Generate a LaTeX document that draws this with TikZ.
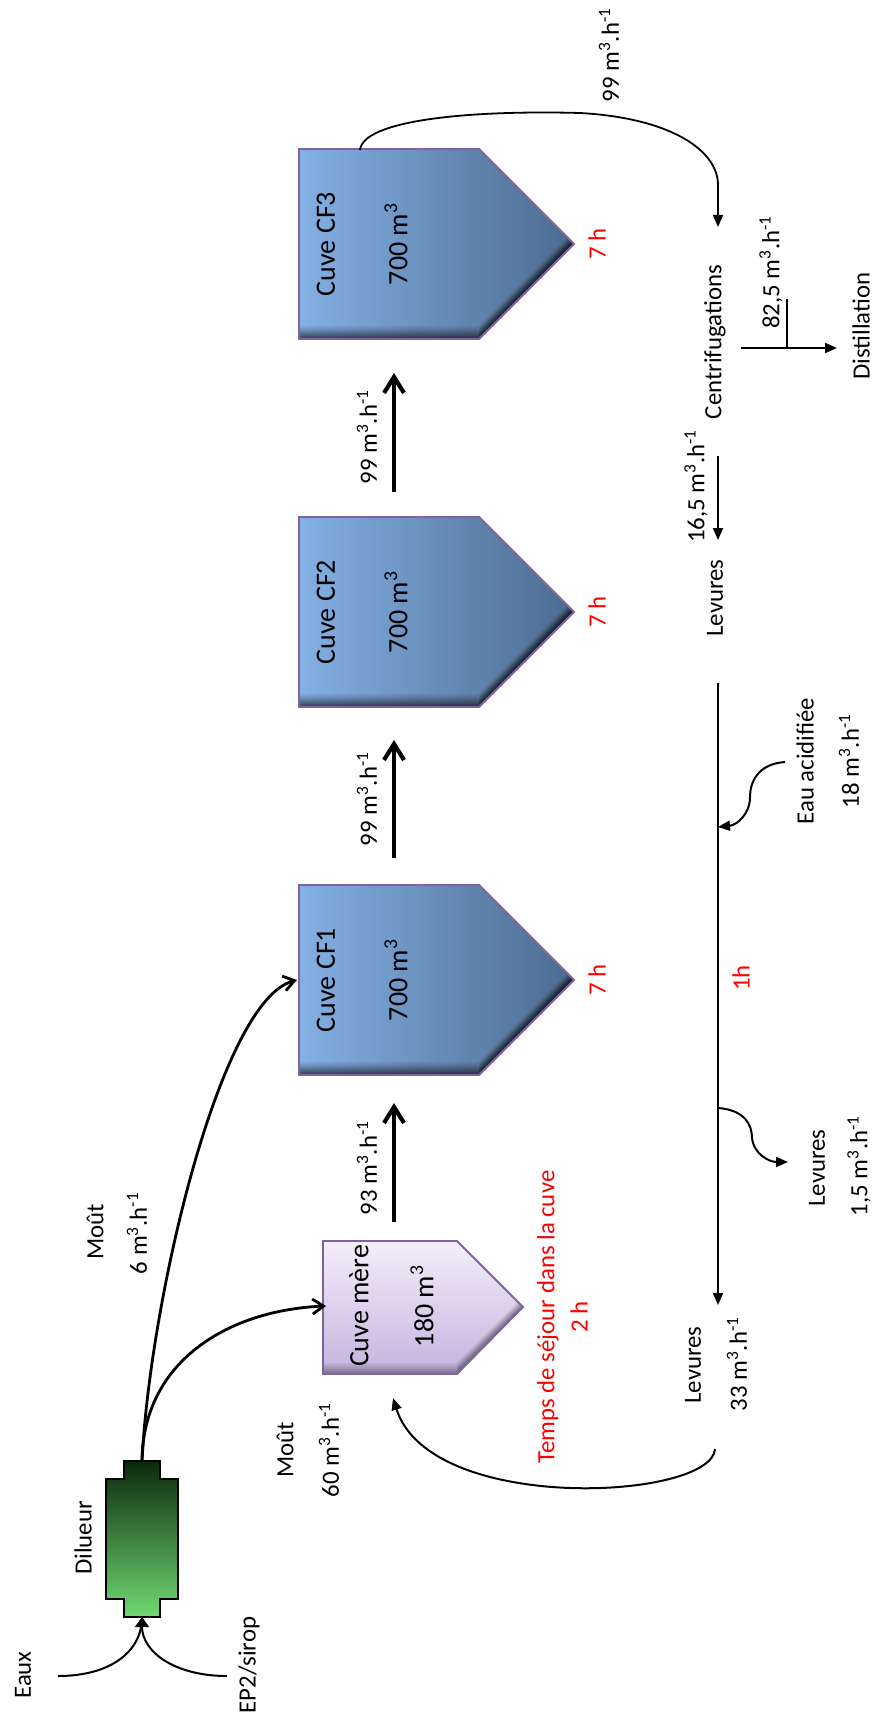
\documentclass[tikz,border=0pt]{standalone}
\usepackage{fontspec}
\setmainfont{Carlito}
\usetikzlibrary{arrows.meta}
\definecolor{cfL}{RGB}{132,176,228}
\definecolor{cfR}{RGB}{76,106,142}
\definecolor{meT}{RGB}{243,238,250}
\definecolor{meB}{RGB}{196,180,222}
\definecolor{tankline}{RGB}{126,98,162}
\definecolor{dilT}{RGB}{12,40,12}
\definecolor{dilB}{RGB}{112,218,114}
\newcommand\flowu[1]{#1 m\textsuperscript{3}.h\textsuperscript{-1}}
\newcommand\cftank[2]{%
  \shade[left color=cfL, right color=cfR] (299,#2-95) -- (479,#2-95) -- (574,#2) -- (479,#2+95) -- (299,#2+95) -- cycle;
  \begin{scope}
    \clip (299,#2-95) -- (479,#2-95) -- (574,#2) -- (479,#2+95) -- (299,#2+95) -- cycle;
    \foreach \oo/\oq in {0/0.6,2/0.5,4/0.4,6/0.3,8/0.2,10/0.12,12/0.05}{
      \draw[black, line width=1.1pt, opacity=\oq, shift={(0,-\oo)}] (290,#2+95) -- (479,#2+95) -- (582,#2-8);
    }
  \end{scope}
  \draw[tankline, line width=0.9pt] (299,#2-95) -- (479,#2-95) -- (574,#2) -- (479,#2+95) -- (299,#2+95) -- cycle;
  \coordinate (#1) at (299,#2);
}
\begin{document}
\begin{tikzpicture}[x=0.5pt, y=-0.5pt,
  lbl/.style={rotate=90, inner sep=0pt, font=\fontsize{12.4}{15}\selectfont},
  tanklbl/.style={rotate=90, inner sep=0pt, font=\fontsize{14}{17}\selectfont},
  redlbl/.style={lbl, text=red},
  bigarrow/.style={line width=2.1pt, -{Straight Barb[length=8pt,width=10pt]}},
  medarrow/.style={line width=1.4pt, -{Straight Barb[length=5.5pt,width=7.5pt]}},
  thinline/.style={line width=1pt},
  thinarrow/.style={line width=1pt, -{Triangle[length=6pt,width=5pt]}}]
\fill[white] (0,0) rectangle (875,1717);
\useasboundingbox (0,0) rectangle (875,1717);

% ---------- Dilueur ----------
\shade[top color=dilT, bottom color=dilB]
  (124,1461) -- (160,1461) -- (160,1479) -- (178,1479) -- (178,1599) -- (160,1599)
  -- (160,1617) -- (124,1617) -- (124,1599) -- (106,1599) -- (106,1479) -- (124,1479) -- cycle;
\draw[black, line width=0.9pt]
  (124,1461) -- (160,1461) -- (160,1479) -- (178,1479) -- (178,1599) -- (160,1599)
  -- (160,1617) -- (124,1617) -- (124,1599) -- (106,1599) -- (106,1479) -- (124,1479) -- cycle;
\coordinate (dilTop) at (142,1461);
\coordinate (dilBot) at (142,1617);
\coordinate (eauxS) at (58,1676);
\coordinate (ep2S) at (227,1676);

% ---------- Cuve mere ----------
\shade[top color=meT, bottom color=meB] (323,1241) -- (457,1241) -- (523,1307) -- (457,1374) -- (323,1374) -- cycle;
\begin{scope}
  \clip (323,1241) -- (457,1241) -- (523,1307) -- (457,1374) -- (323,1374) -- cycle;
  \foreach \oo/\oq in {0/0.5,2/0.42,4/0.32,6/0.22,8/0.14,10/0.07}{
    \draw[black!70!meB, line width=1.1pt, opacity=\oq, shift={(0,-\oo)}] (315,1374) -- (457,1374) -- (530,1301);
  }
\end{scope}
\draw[tankline, line width=0.9pt] (323,1241) -- (457,1241) -- (523,1307) -- (457,1374) -- (323,1374) -- cycle;
\coordinate (merein) at (326,1306);

% ---------- CF tanks ----------
\cftank{cf1}{980}
\cftank{cf2}{612}
\cftank{cf3}{244}
\coordinate (cf1in) at (297,980);
\coordinate (cf3out) at (360,150);

% ---------- text ----------
\node[lbl] (eaux) at (23,1675) {Eaux};
\node[lbl] (ep2) at (249,1665) {EP2/sirop};
\node[lbl] (dil) at (83,1538) {Dilueur};
\node[lbl] (mout1) at (95,1232) {Moût};
\node[lbl] (mout1q) at (137,1233) {\flowu{6}};
\node[lbl] (mout2) at (285,1450) {Moût};
\node[lbl] (mout2q) at (329,1450) {\flowu{60}};
\node[tanklbl] (mereA) at (359,1306) {Cuve mère};
\node[tanklbl] (mereB) at (422,1306) {180 m\textsuperscript{3}};
\node[redlbl] (tsej) at (548,1317) {Temps de séjour dans la cuve};
\node[redlbl] (tsej2) at (579,1317) {2 h};
\node[lbl] (q93) at (367,1168) {\flowu{93}};
\node[lbl] (q99a) at (367,799) {\flowu{99}};
\node[lbl] (q99b) at (367,437) {\flowu{99}};
\foreach \n/\c in {1/980,2/612,3/244}{
  \node[tanklbl] (cfA\n) at (326,\c) {Cuve CF\n};
  \node[tanklbl] (cfB\n) at (396,\c) {700 m\textsuperscript{3}};
  \node[redlbl] (cfT\n) at (597,\c) {7 h};
}
\node[lbl] (q99c) at (609,55) {\flowu{99}};
\node[lbl] (centri) at (715,342) {Centrifugations};
\node[lbl] (q825) at (771,272) {\flowu{82,5}};
\node[lbl] (disti) at (861,326) {Distillation};
\node[lbl] (q165) at (696,486) {\flowu{16,5}};
\node[lbl] (lev1) at (715,598) {Levures};
\node[lbl] (eauac) at (805,761) {Eau acidifiée};
\node[lbl] (q18) at (849,761) {\flowu{18}};
\node[redlbl] (oneh) at (741,978) {1h};
\node[lbl] (lev2) at (817,1168) {Levures};
\node[lbl] (q15) at (859,1166) {\flowu{1,5}};
\node[lbl] (lev3) at (693,1365) {Levures};
\node[lbl] (q33) at (737,1364) {\flowu{33}};

% ---------- coordinates for connectors ----------
\coordinate (a93s) at (394,1222);
\coordinate (a93e) at (394,1103);
\coordinate (a99as) at (394,858);
\coordinate (a99ae) at (394,740);
\coordinate (a99bs) at (394,492);
\coordinate (a99be) at (394,373);
\coordinate (centin) at (718,227);
\coordinate (centdown) at (718,456);
\coordinate (levin) at (718,540);
\coordinate (centright) at (741,348);
\coordinate (distin) at (837,348);
\coordinate (tickTop) at (787,299);
\coordinate (tickBot) at (787,348);
\coordinate (lineTop) at (718,683);
\coordinate (lineBot) at (718,1305);
\coordinate (eauS) at (785,762);
\coordinate (eauE) at (718,827);
\coordinate (lev15S) at (718,1108);
\coordinate (lev15E) at (788,1162);
\coordinate (recS) at (715,1449);
\coordinate (recE) at (393,1398);

% ---------- connectors ----------
\draw[thinline] (eauxS) .. controls (110,1676) and (142,1652) .. (dilBot);
\draw[thinarrow, -{Triangle[length=5pt,width=7pt]}] (ep2S) .. controls (175,1676) and (142,1652) .. (dilBot);
\draw[medarrow] (dilTop) .. controls (150,1300) and (220,1000) .. (cf1in);
\draw[medarrow] (dilTop) .. controls (143,1360) and (230,1310) .. (merein);
\draw[bigarrow] (a93s) -- (a93e);
\draw[bigarrow] (a99as) -- (a99ae);
\draw[bigarrow] (a99bs) -- (a99be);
\draw[thinarrow, line width=0.9pt] (cf3out) .. controls (363,120) and (470,110) .. (580,113)
  .. controls (670,118) and (718,150) .. (718,185) -- (centin);
\draw[thinarrow] (centdown) -- (levin);
\draw[thinarrow] (centright) -- (distin);
\draw[thinline] (tickTop) -- (tickBot);
\draw[thinarrow] (lineTop) -- (lineBot);
\draw[thinarrow] (eauS) .. controls (757,764) and (750,783) .. (750,797)
  .. controls (750,814) and (737,825) .. (eauE);
\draw[thinarrow] (lev15S) .. controls (745,1110) and (752,1125) .. (752,1138)
  .. controls (754,1155) and (770,1162) .. (lev15E);
\draw[thinarrow] (recS) .. controls (712,1500) and (430,1515) .. (recE);
\end{tikzpicture}
\end{document}
